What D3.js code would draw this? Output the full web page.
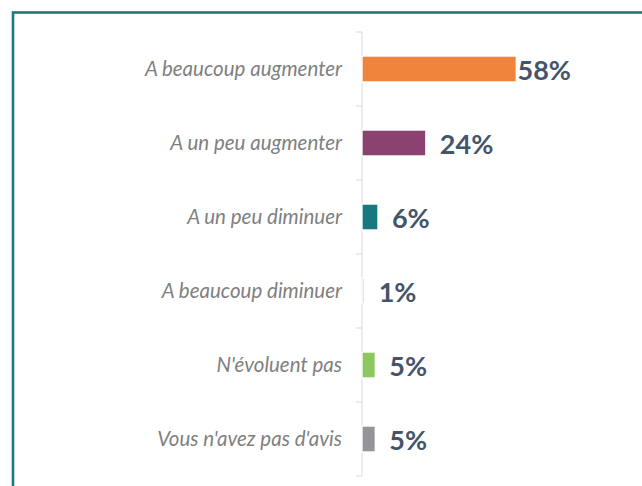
<!DOCTYPE html>
<html>
<head>
<meta charset="utf-8">
<script src="https://cdn.jsdelivr.net/npm/d3@7"></script>
<style>
  html, body { margin: 0; padding: 0; background: #fff; overflow: hidden; }
  svg { display: block; }
</style>
</head>
<body>
<div id="chart"></div>
<script>
const categories = [
  "A beaucoup augmenter",
  "A un peu augmenter",
  "A un peu diminuer",
  "A beaucoup diminuer",
  "N'évoluent pas",
  "Vous n'avez pas d'avis"
];
const values = [58, 24, 6, 1, 5, 5];
const barColors = ["#f0843c", "#8b4270", "#17797f", "#e4e4e4", "#8cc85f", "#939598"];

const W = 642, H = 486;
const axisX = 362;

const svg = d3.select("#chart")
  .append("svg")
  .attr("width", W)
  .attr("height", H);

// cadre
svg.append("rect")
  .attr("x", 13)
  .attr("y", 12.5)
  .attr("width", W + 20)
  .attr("height", H + 20)
  .attr("fill", "none")
  .attr("stroke", "#18797f")
  .attr("stroke-width", 2.6);

const x = d3.scaleLinear()
  .domain([0, 100])
  .range([axisX, axisX + 266]);

const y = d3.scaleBand()
  .domain(categories)
  .range([32, 476])
  .paddingInner(0.65)
  .paddingOuter(0.325);

// axe vertical + graduations aux limites des bandes
const step = y.step();
const bounds = d3.range(categories.length + 1).map(i => 32 + i * step);

svg.append("line")
  .attr("x1", axisX).attr("x2", axisX)
  .attr("y1", 32).attr("y2", 476)
  .attr("stroke", "#d9d9d9")
  .attr("stroke-width", 1);

svg.selectAll(".tick")
  .data(bounds)
  .enter()
  .append("line")
  .attr("class", "tick")
  .attr("x1", axisX - 6).attr("x2", axisX)
  .attr("y1", d => d).attr("y2", d => d)
  .attr("stroke", "#d9d9d9")
  .attr("stroke-width", 1);

// libellés des catégories
svg.selectAll(".cat")
  .data(categories)
  .enter()
  .append("text")
  .attr("class", "cat")
  .attr("x", 342)
  .attr("y", d => y(d) + y.bandwidth() / 2 + 7)
  .attr("text-anchor", "end")
  .style("font-family", "Lato, 'Open Sans', sans-serif")
  .style("font-style", "italic")
  .style("font-size", "20.5px")
  .style("fill", "#7f7f7f")
  .text(d => d);

// barres
svg.selectAll(".bar")
  .data(values)
  .enter()
  .append("rect")
  .attr("class", "bar")
  .attr("x", x(0))
  .attr("y", (d, i) => y(categories[i]))
  .attr("width", d => x(d) - x(0))
  .attr("height", y.bandwidth())
  .attr("fill", (d, i) => barColors[i])
  .attr("stroke", "#fff")
  .attr("stroke-width", 1.3);

// étiquettes de valeurs
const labelMaxX = 571;
svg.selectAll(".val")
  .data(values)
  .enter()
  .append("text")
  .attr("class", "val")
  .attr("y", (d, i) => y(categories[i]) + y.bandwidth() / 2 + 11)
  .style("font-family", "Lato, 'Open Sans', sans-serif")
  .style("font-weight", "bold")
  .style("font-size", "27px")
  .style("fill", "#44546a")
  .text(d => d + "%")
  .attr("x", function(d) {
    const w = this.getComputedTextLength();
    return Math.min(x(d) + 14, labelMaxX - w);
  });
</script>
</body>
</html>
